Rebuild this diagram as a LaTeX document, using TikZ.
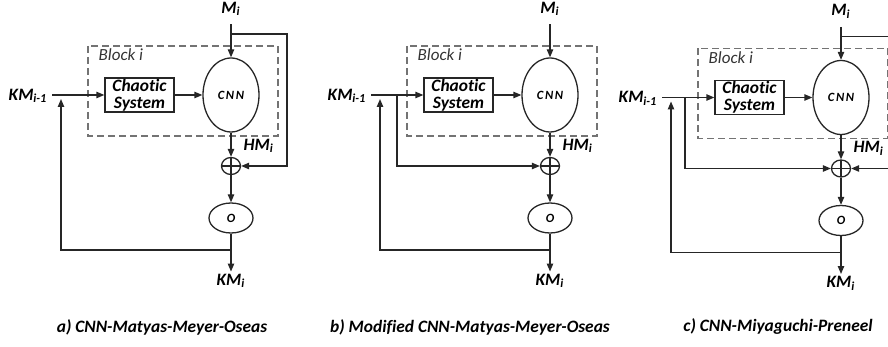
\documentclass[tikz,border=0pt]{standalone}
\usepackage{fontspec}
\setmainfont{Carlito}[Ligatures=CommonOff]
\usetikzlibrary{arrows.meta,shapes.geometric}
\newcommand{\Sub}[2]{#1\textsubscript{#2}}
\newcommand{\HashPanel}[3]%
% prefix, main x, vertical shift
{ \begin{scope}[shift={(#2,#3)}]
    % boites
    \draw[dashbox] (-143,46) rectangle (47,136);
    \node[blocktxt, anchor=west] (#1blk) at (-133,55) {Block i};
    \node[txt] (#1mi) at (0,9) {\Sub{M}{i}};
    \node[chaos] (#1chaos) at (-91.5,95) {Chaotic\\System};
    \node[cnn] (#1cnn) at (0,95) {CNN};
    \node[xor] (#1xor) at (0,166) {};
    \node[outbox] (#1o) at (0,218) {O};
    \node[txt, anchor=east] (#1kmprev) at (-181,96) {\Sub{KM}{i-1}};
    \node[txt, anchor=west] (#1hm) at (10,146) {\Sub{HM}{i}};
    \node[txt] (#1km) at (0,281) {\Sub{KM}{i}};
    \coordinate (#1in) at (-179,95);
    \coordinate (#1j) at (0,250);
    \coordinate (#1tip) at (-170,99);

    % liaisons
    \draw[arr, shorten <=3pt] (#1mi) -- (#1cnn);
    \draw[arr] (#1in) -- (#1chaos);
    \draw[arr] (#1chaos) -- (#1cnn);
    \draw[arr] (#1cnn) -- (#1xor);
    \draw[arr] (#1xor) -- (#1o);
    \draw[arr] (#1o) -- (#1km);
    \draw[arr] (#1j) -| (#1tip);
  \end{scope}
}

\begin{document}
\begin{tikzpicture}
[   x=0.5pt, y=-0.5pt, line width=0.65pt, color=black!85,
    arr/.style={-{Triangle[length=4pt,width=3.2pt]}},
    txt/.style={inner sep=1pt, text=black, font=\fontsize{8.7}{9}\selectfont\bfseries\itshape},
    blocktxt/.style={inner sep=0pt, text=black!80, font=\fontsize{8.5}{9}\selectfont\itshape},
    chaos/.style={draw, rectangle, minimum width=34.5pt, minimum height=17pt, inner sep=0, align=center,
        text=black, font=\fontsize{8.7}{8.4}\selectfont\bfseries\itshape},
    cnn/.style={draw, ellipse, minimum width=28pt, minimum height=37pt, inner sep=0, text=black,
        font=\fontsize{6.3}{7}\selectfont\bfseries\itshape\addfontfeature{LetterSpace=12}},
    outbox/.style={draw, ellipse, minimum width=22pt, minimum height=15pt, inner sep=0, text=black,
        font=\fontsize{6.3}{7}\selectfont\bfseries\itshape},
    xor/.style={draw, ellipse, minimum width=9.5pt, minimum height=8.5pt, inner sep=0,
        path picture={\draw (path picture bounding box.north) -- (path picture bounding box.south)
            (path picture bounding box.west) -- (path picture bounding box.east);}},
    dashbox/.style={gray!90!black, line width=0.6pt, dash pattern=on 3.5pt off 2pt},
    captxt/.style={inner sep=0pt, text=black, font=\fontsize{8.7}{9}\selectfont\bfseries\itshape}
]
    \useasboundingbox (0,0) rectangle (888,347);
    \clip (0,0) rectangle (888,347);

    \HashPanel{a}{231}{0}
    \HashPanel{b}{550}{0}
    \HashPanel{c}{841}{2.5}

    % a) retour de M
    \coordinate (abr) at (231,34);
    \coordinate (ar) at (287,34);
    \draw[arr] (abr) -- (ar) |- (axor);

    % b) retour de KM
    \coordinate (bbr) at (397,95);
    \draw[arr] (bbr) |- (bxor);

    % c) les deux
    \coordinate (cbr) at (685,97.5);
    \draw[arr] (cbr) |- (cxor);
    \coordinate (cmbr) at (841,36.5);
    \coordinate (cr) at (895,36.5);
    \draw (cmbr) -- (cr);
    \coordinate (crx) at (895,168.5);
    \draw[arr] (crx) -- (cxor);

    \node[captxt] (capa) at (162,327) {a) CNN-Matyas-Meyer-Oseas};
    \node[captxt] (capb) at (470,327) {b) Modified CNN-Matyas-Meyer-Oseas};
    \node[captxt] (capc) at (778,327) {c) CNN-Miyaguchi-Preneel};
\end{tikzpicture}
\end{document}
